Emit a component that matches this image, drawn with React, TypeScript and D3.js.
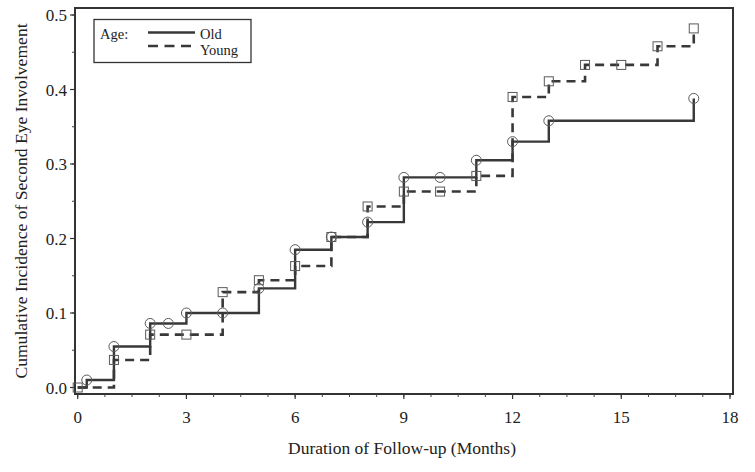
import React from "react";
import * as d3 from "d3";

const oldTimes = [0, 0.25, 1, 2, 2.5, 3, 4, 5, 6, 7, 8, 9, 10, 11, 12, 13, 17];
const oldValues = [0, 0.01, 0.055, 0.086, 0.086, 0.1, 0.1, 0.133, 0.185, 0.202, 0.222, 0.282, 0.282, 0.305, 0.33, 0.358, 0.388];
const oldMarked = [false, true, true, true, true, true, true, true, true, true, true, true, true, true, true, true, true];

const youngTimes = [0, 1, 2, 3, 4, 5, 6, 7, 8, 9, 10, 11, 12, 13, 14, 15, 16, 17];
const youngValues = [0, 0.037, 0.071, 0.071, 0.128, 0.144, 0.163, 0.202, 0.243, 0.263, 0.263, 0.284, 0.39, 0.411, 0.433, 0.433, 0.458, 0.482];

const xTicks = [0, 3, 6, 9, 12, 15, 18];
const yTicks = [0, 0.1, 0.2, 0.3, 0.4, 0.5];
const xMinor = d3.range(0, 18.001, 0.75);
const yMinor = d3.range(0, 0.5001, 0.05);

const xTitle = "Duration of Follow-up (Months)";
const yTitle = "Cumulative Incidence of Second Eye Involvement";
const legendTitle = "Age:";
const seriesNames = ["Old", "Young"];

const W = 755, H = 472;
const frame = { left: 75, top: 8, right: 733, bottom: 394 };
const x = d3.scaleLinear().domain([0, 18]).range([77.7, 730]);
const y = d3.scaleLinear().domain([0, 0.5]).range([387.5, 15]);

const lineColor = "#383838";
const markColor = "#5a5a5a";
const font = "'Liberation Serif', 'Times New Roman', serif";

function stepPath(ts: number[], vs: number[]) {
  const pts: [number, number][] = ts.map((t, i) => [t, vs[i]]);
  return d3.line<[number, number]>().x(d => x(d[0])).y(d => y(d[1])).curve(d3.curveStepAfter)(pts) || "";
}

export default function App() {
  return (
    <svg width={W} height={H} style={{ position: "absolute", left: 0, top: 0, background: "#fff" }} fontFamily={font}>
      <rect x={0} y={0} width={W} height={H} fill="#fff" />
      {/* frame */}
      <rect x={frame.left} y={frame.top} width={frame.right - frame.left} height={frame.bottom - frame.top}
        fill="none" stroke="#333" strokeWidth={2} />
      {/* x ticks */}
      {xMinor.map((t, i) => (
        <line key={"xm" + i} x1={x(t)} x2={x(t)} y1={frame.bottom} y2={frame.bottom + 3} stroke="#444" strokeWidth={1} />
      ))}
      {xTicks.map(t => (
        <g key={"xt" + t}>
          <line x1={x(t)} x2={x(t)} y1={frame.bottom} y2={frame.bottom + 5} stroke="#333" strokeWidth={1.2} />
          <text x={x(t)} y={423} textAnchor="middle" fontSize={17} fill="#222">{t}</text>
        </g>
      ))}
      {/* y ticks */}
      {yMinor.map((v, i) => (
        <line key={"ym" + i} x1={frame.left - 3} x2={frame.left} y1={y(v)} y2={y(v)} stroke="#444" strokeWidth={1} />
      ))}
      {yTicks.map(v => (
        <g key={"yt" + v}>
          <line x1={frame.left - 5} x2={frame.left} y1={y(v)} y2={y(v)} stroke="#333" strokeWidth={1.2} />
          <text x={67} y={y(v) + 6} textAnchor="end" fontSize={17} fill="#222">{v.toFixed(1)}</text>
        </g>
      ))}
      {/* titles */}
      <text x={402} y={454} textAnchor="middle" fontSize={17.5} fill="#222">{xTitle}</text>
      <text transform={`translate(27,201) rotate(-90)`} textAnchor="middle" fontSize={17.6} fill="#222">{yTitle}</text>

      {/* series */}
      <path d={stepPath(youngTimes, youngValues)} fill="none" stroke={lineColor} strokeWidth={2.6} strokeDasharray="9,6" />
      <path d={stepPath(oldTimes, oldValues)} fill="none" stroke={lineColor} strokeWidth={2.4} />
      {youngTimes.map((t, i) => (
        <rect key={"ys" + i} x={x(t) - 4.5} y={y(youngValues[i]) - 4.5} width={9} height={9}
          fill="none" stroke={markColor} strokeWidth={1} />
      ))}
      {oldTimes.map((t, i) => oldMarked[i] ? (
        <circle key={"oc" + i} cx={x(t)} cy={y(oldValues[i])} r={5} fill="none" stroke={markColor} strokeWidth={1} />
      ) : null)}

      {/* legend */}
      <rect x={94} y={19.5} width={157} height={43} fill="#fff" stroke="#333" strokeWidth={1.3} />
      <text x={100} y={39} fontSize={14.5} fill="#222">{legendTitle}</text>
      <line x1={148} x2={195} y1={32.5} y2={32.5} stroke={lineColor} strokeWidth={2.4} />
      <line x1={148} x2={195} y1={46} y2={46} stroke={lineColor} strokeWidth={2.6} strokeDasharray="10,6.5" />
      <text x={200} y={39} fontSize={14.5} fill="#222">{seriesNames[0]}</text>
      <text x={200} y={55} fontSize={14.5} fill="#222">{seriesNames[1]}</text>
    </svg>
  );
}
